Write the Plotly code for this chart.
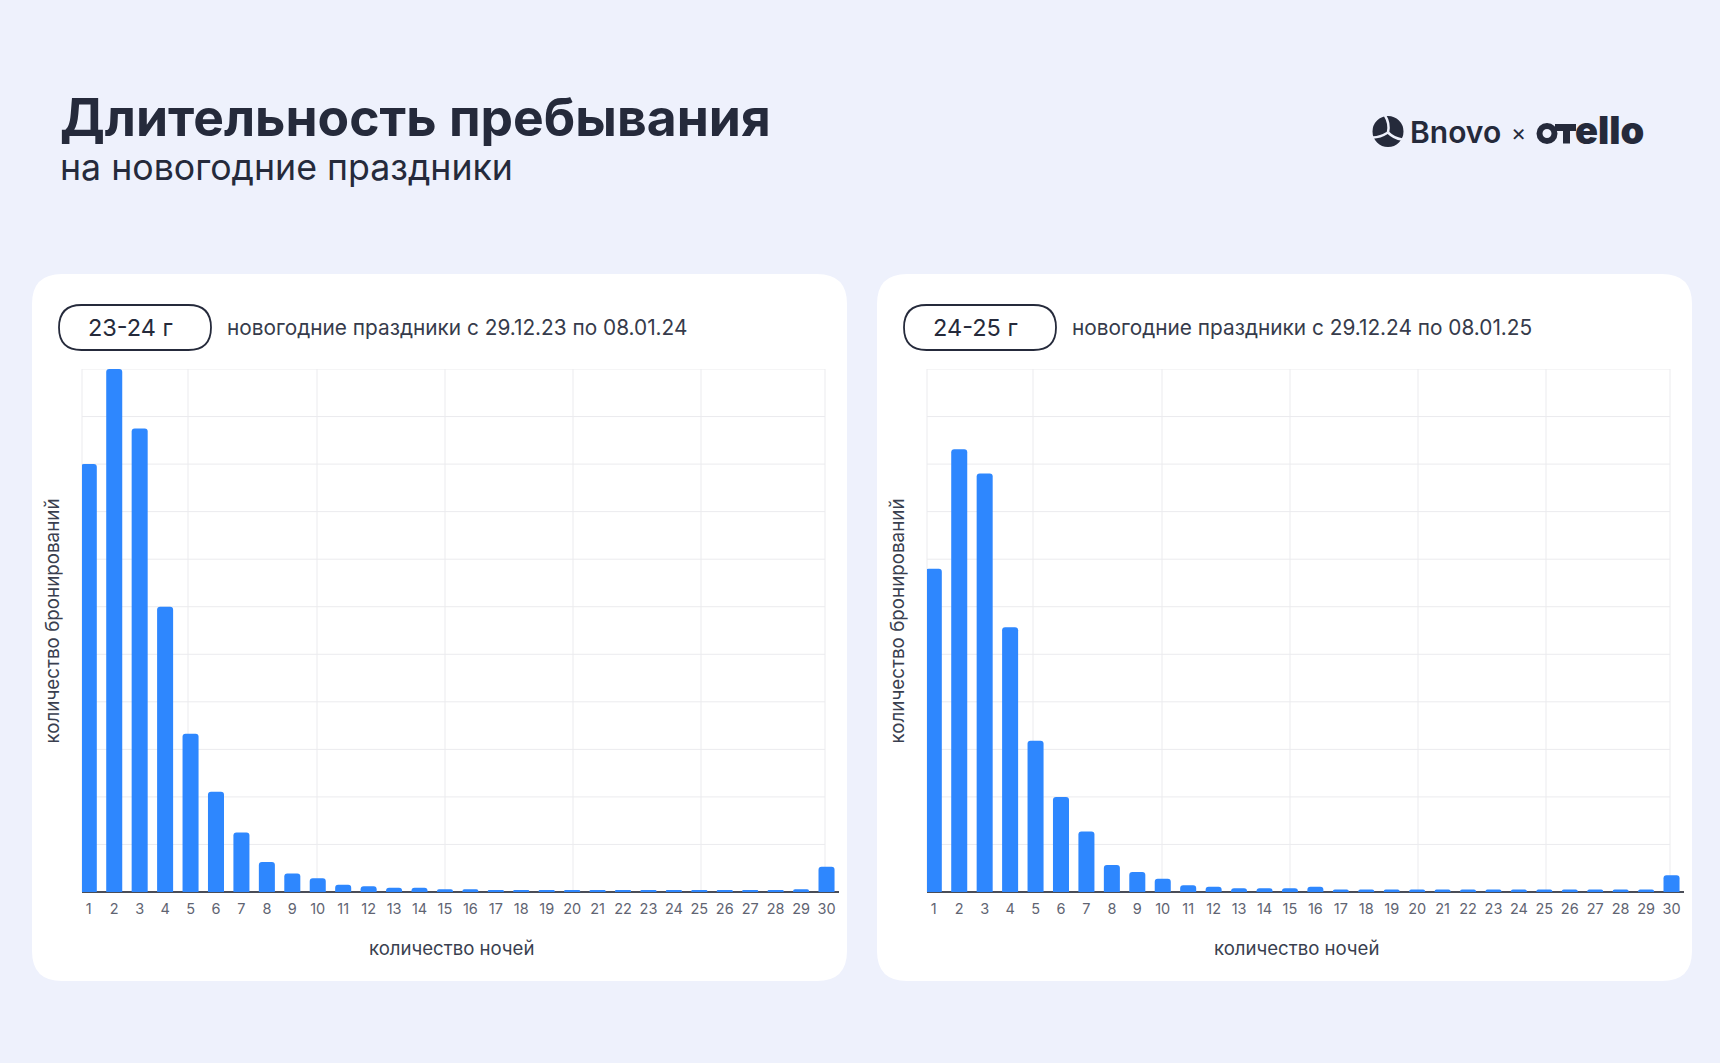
import plotly.graph_objects as go

# ---------------- data ----------------
nights = list(range(1, 31))
tick_labels = [str(n) for n in nights]
bookings_2324 = [900, 1100, 975, 600, 333, 211, 125, 63, 39, 29, 15, 12, 9, 9, 6, 6,
                 3, 3, 3, 3, 3, 3, 3, 3, 3, 3, 3, 3, 6, 53]
bookings_2425 = [680, 931, 880, 557, 318, 200, 127, 57, 42, 28, 14, 11, 8, 8, 8, 11,
                 5, 5, 5, 5, 5, 5, 5, 5, 5, 5, 5, 5, 5, 35]
grid_values = list(range(0, 1101, 100))
panel_tags = ["23-24 г", "24-25 г"]
panel_notes = ["новогодние праздники с 29.12.23 по 08.01.24",
               "новогодние праздники с 29.12.24 по 08.01.25"]
title_text = "Длительность пребывания"
subtitle_text = "на новогодние праздники"
x_title = "количество ночей"
y_title = "количество бронирований"

W, H = 1720, 1063
BG = "#eef1fc"
DARK = "#252a3b"
BLUE = "#2e87fe"
GRID = "#ebebee"
FONT = "Inter"

# grid box (pixels) and axis extent
GX0, GX1, GY0, GY1 = 82, 825, 369, 892
X_LO, X_GRID_HI, X_HI = 0.733, 29.94, 30.5
DOM_RIGHT = GX0 + (X_HI - X_LO) / (X_GRID_HI - X_LO) * (GX1 - GX0)
VGRID = [82, 188, 317, 445, 573, 701, 825]


def px(x):
    return x / W


def py(y):
    return 1 - y / H


def rounded_path(x0, y0, x1, y1, r):
    pts = [
        ("M", [(x0 + r, y0)]),
        ("L", [(x1 - r, y0)]),
        ("Q", [(x1, y0), (x1, y0 + r)]),
        ("L", [(x1, y1 - r)]),
        ("Q", [(x1, y1), (x1 - r, y1)]),
        ("L", [(x0 + r, y1)]),
        ("Q", [(x0, y1), (x0, y1 - r)]),
        ("L", [(x0, y0 + r)]),
        ("Q", [(x0, y0), (x0 + r, y0)]),
    ]
    s = ""
    for cmd, ps in pts:
        s += cmd + " " + " ".join(f"{px(a):.6f},{py(b):.6f}" for a, b in ps) + " "
    return s + "Z"


fig = go.Figure()

offsets = [0, 845]
series = [bookings_2324, bookings_2425]
shapes = []
annotations = []

for i, (off, vals) in enumerate(zip(offsets, series)):
    xa = "x" if i == 0 else "x2"
    ya = "y" if i == 0 else "y2"
    fig.add_trace(go.Bar(
        x=nights, y=vals, xaxis=xa, yaxis=ya,
        marker=dict(color=BLUE, cornerradius=3, line=dict(width=0)),
        width=0.63, cliponaxis=False, showlegend=False, hoverinfo="x+y",
    ))

    # card
    shapes.append(dict(type="path", xref="paper", yref="paper", layer="below",
                       path=rounded_path(32 + off, 274, 847 + off, 981, 30),
                       fillcolor="white", line=dict(width=0)))
    # pill
    shapes.append(dict(type="path", xref="paper", yref="paper", layer="below",
                       path=rounded_path(59 + off, 305, 211 + off, 350, 22.5),
                       fillcolor="white", line=dict(color=DARK, width=1.8)))
    # vertical grid lines (decorative)
    for gx in VGRID:
        shapes.append(dict(type="line", xref="paper", yref="paper",
                           x0=px(gx + off), x1=px(gx + off), y0=py(GY1), y1=py(GY0),
                           layer="below", line=dict(color=GRID, width=1)))
    # horizontal grid lines at value levels
    for gv in grid_values[1:]:
        shapes.append(dict(type="line", xref="paper", yref=ya,
                           x0=px(GX0 + off), x1=px(GX1 + off), y0=gv, y1=gv,
                           layer="below", line=dict(color=GRID, width=1)))

    annotations.append(dict(text=panel_tags[i], x=px(130 + off), y=py(328),
                            xref="paper", yref="paper", showarrow=False,
                            xanchor="center", yanchor="middle",
                            font=dict(family=FONT, size=23.5, color=DARK)))
    annotations.append(dict(text=panel_notes[i], x=px(225 + off), y=py(327),
                            xref="paper", yref="paper", showarrow=False,
                            xanchor="left", yanchor="middle",
                            font=dict(family=FONT, size=20.8, color="#363b4b")))
    annotations.append(dict(text=x_title, x=px(451.5 + off), y=py(948),
                            xref="paper", yref="paper", showarrow=False,
                            xanchor="center", yanchor="middle",
                            font=dict(family=FONT, size=18.6, color="#3a3f4f")))
    annotations.append(dict(text=y_title, x=px(51.5 + off), y=py(621),
                            xref="paper", yref="paper", showarrow=False,
                            xanchor="center", yanchor="middle", textangle=-90,
                            font=dict(family=FONT, size=18.8, color="#3a3f4f")))

# title
annotations.append(dict(text=f"<b>{title_text}</b>", x=px(58), y=py(117),
                        xref="paper", yref="paper", showarrow=False,
                        xanchor="left", yanchor="middle",
                        font=dict(family=FONT, size=51.6, color=DARK)))
annotations.append(dict(text=subtitle_text, x=px(58), y=py(167),
                        xref="paper", yref="paper", showarrow=False,
                        xanchor="left", yanchor="middle",
                        font=dict(family=FONT, size=35.7, color=DARK)))

# logo: Bnovo icon
cx, cy, r = 1388, 131.5, 15.5
shapes.append(dict(type="circle", xref="paper", yref="paper",
                   x0=px(cx - r), x1=px(cx + r), y0=py(cy + r), y1=py(cy - r),
                   fillcolor=DARK, line=dict(width=0)))
for (ex, ey, qx, qy) in [(cx - 3, cy - 16, cx + 2, cy - 8), (cx - 15, cy + 6, cx - 8, cy + 6),
                         (cx + 14, cy + 8, cx + 6, cy + 7)]:
    shapes.append(dict(type="path", xref="paper", yref="paper",
                       path=f"M {px(cx):.6f},{py(cy + 1):.6f} Q {px(qx):.6f},{py(qy):.6f} {px(ex):.6f},{py(ey):.6f}",
                       line=dict(color=BG, width=2.5)))
annotations.append(dict(text="Bnovo", x=px(1408), y=py(132), xref="paper", yref="paper",
                        showarrow=False, xanchor="left", yanchor="middle",
                        font=dict(family=FONT, size=30, color=DARK, weight=600)))
annotations.append(dict(text="×", x=px(1518), y=py(133), xref="paper", yref="paper",
                        showarrow=False, xanchor="center", yanchor="middle",
                        font=dict(family=FONT, size=23, color=DARK)))
# otello logotype: ring + T bar + text
ox, oy = 1547, 133.5
shapes.append(dict(type="circle", xref="paper", yref="paper",
                   x0=px(ox - 7.5), x1=px(ox + 7.5), y0=py(oy + 7.5), y1=py(oy - 7.5),
                   fillcolor=BG, line=dict(color=DARK, width=6)))
shapes.append(dict(type="rect", xref="paper", yref="paper",
                   x0=px(1555), x1=px(1576), y0=py(131), y1=py(124),
                   fillcolor=DARK, line=dict(width=0)))
shapes.append(dict(type="rect", xref="paper", yref="paper",
                   x0=px(1563), x1=px(1570), y0=py(143.5), y1=py(124),
                   fillcolor=DARK, line=dict(width=0)))
annotations.append(dict(text="ello", x=px(1573), y=py(130), xref="paper", yref="paper",
                        showarrow=False, xanchor="left", yanchor="middle",
                        font=dict(family=FONT, size=38, color=DARK, weight=900)))

xaxis_common = dict(range=[X_LO, X_HI], tickvals=nights, ticktext=tick_labels,
                    showgrid=False, zeroline=False, showline=False,
                    ticks="outside", ticklen=4, tickcolor="rgba(0,0,0,0)",
                    tickfont=dict(family=FONT, size=14.5, color="#5f6472"),
                    fixedrange=True)
yaxis_common = dict(range=[0, 1100], dtick=100, showgrid=False,
                    showticklabels=False, zeroline=True,
                    zerolinecolor="#4a4d57", zerolinewidth=1.5, fixedrange=True)

fig.update_layout(
    width=W, height=H, autosize=False,
    margin=dict(l=0, r=0, t=0, b=0),
    paper_bgcolor=BG, plot_bgcolor="rgba(0,0,0,0)",
    font=dict(family=FONT),
    bargap=0.37,
    xaxis=dict(domain=[px(GX0), px(DOM_RIGHT)], anchor="y", **xaxis_common),
    yaxis=dict(domain=[py(GY1), py(GY0)], anchor="x", **yaxis_common),
    xaxis2=dict(domain=[px(GX0 + 845), px(DOM_RIGHT + 845)], anchor="y2", **xaxis_common),
    yaxis2=dict(domain=[py(GY1), py(GY0)], anchor="x2", **yaxis_common),
    shapes=shapes,
    annotations=annotations,
)

fig.write_html("out.html")
